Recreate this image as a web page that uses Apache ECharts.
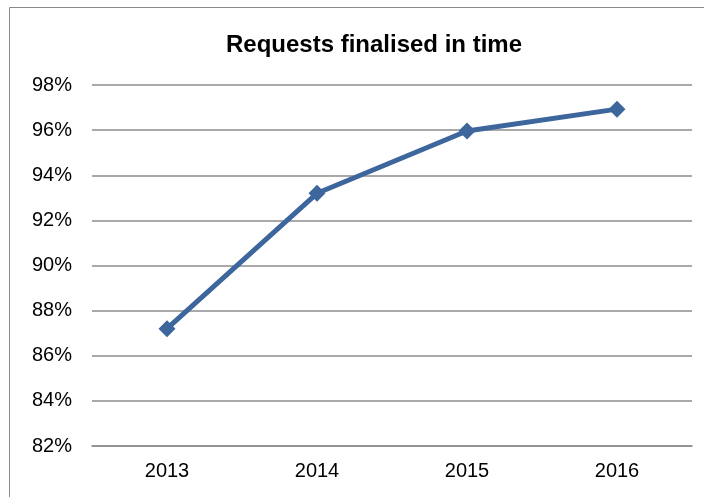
<!DOCTYPE html>
<html>
<head>
<meta charset="utf-8">
<style>
  html, body { margin: 0; padding: 0; background: #fff; }
  #chart { width: 704px; height: 497px; }
</style>
<script src="https://cdn.jsdelivr.net/npm/echarts@6/dist/echarts.min.js"></script>
</head>
<body>
<div id="chart"></div>
<script>
// Share of requests finalised within the statutory time, by year
const years = ['2013', '2014', '2015', '2016'];
const finalisedInTime = [87.2, 93.2, 95.96, 96.93];
const yMin = 82, yMax = 98, yStep = 2;

const chart = echarts.init(document.getElementById('chart'), null, { renderer: 'canvas' });
const font = '"Liberation Sans", Arial, sans-serif';

chart.setOption({
  animation: false,
  backgroundColor: '#ffffff',
  title: {
    text: 'Requests finalised in time',
    left: 369,
    top: 28,
    textAlign: 'center',
    textStyle: { fontFamily: font, fontSize: 24, fontWeight: 'bold', color: '#000' }
  },
  graphic: [{
    type: 'rect',
    shape: { x: 9.5, y: 7.5, width: 720, height: 520 },
    style: { fill: 'none', stroke: '#8a8a8a', lineWidth: 1 },
    silent: true
  }],
  grid: { left: 92, right: 12, top: 85, bottom: 51 },
  xAxis: {
    type: 'category',
    data: years,
    boundaryGap: true,
    axisLine: { show: true, lineStyle: { color: '#8c8c8c', width: 1.5 } },
    axisTick: { show: false },
    axisLabel: { fontFamily: font, fontSize: 20, color: '#000', margin: 15 }
  },
  yAxis: {
    type: 'value',
    min: yMin,
    max: yMax,
    interval: yStep,
    axisLine: { show: false },
    axisTick: { show: false },
    axisLabel: {
      fontFamily: font, fontSize: 20, color: '#000', margin: 20,
      formatter: v => v + '%'
    },
    splitLine: { lineStyle: { color: '#8c8c8c', width: 1.5 } }
  },
  series: [{
    type: 'line',
    data: finalisedInTime,
    symbol: 'diamond',
    symbolSize: 17,
    showSymbol: true,
    lineStyle: { color: '#3d679c', width: 5 },
    itemStyle: { color: '#3d679c' }
  }]
});
</script>
</body>
</html>
